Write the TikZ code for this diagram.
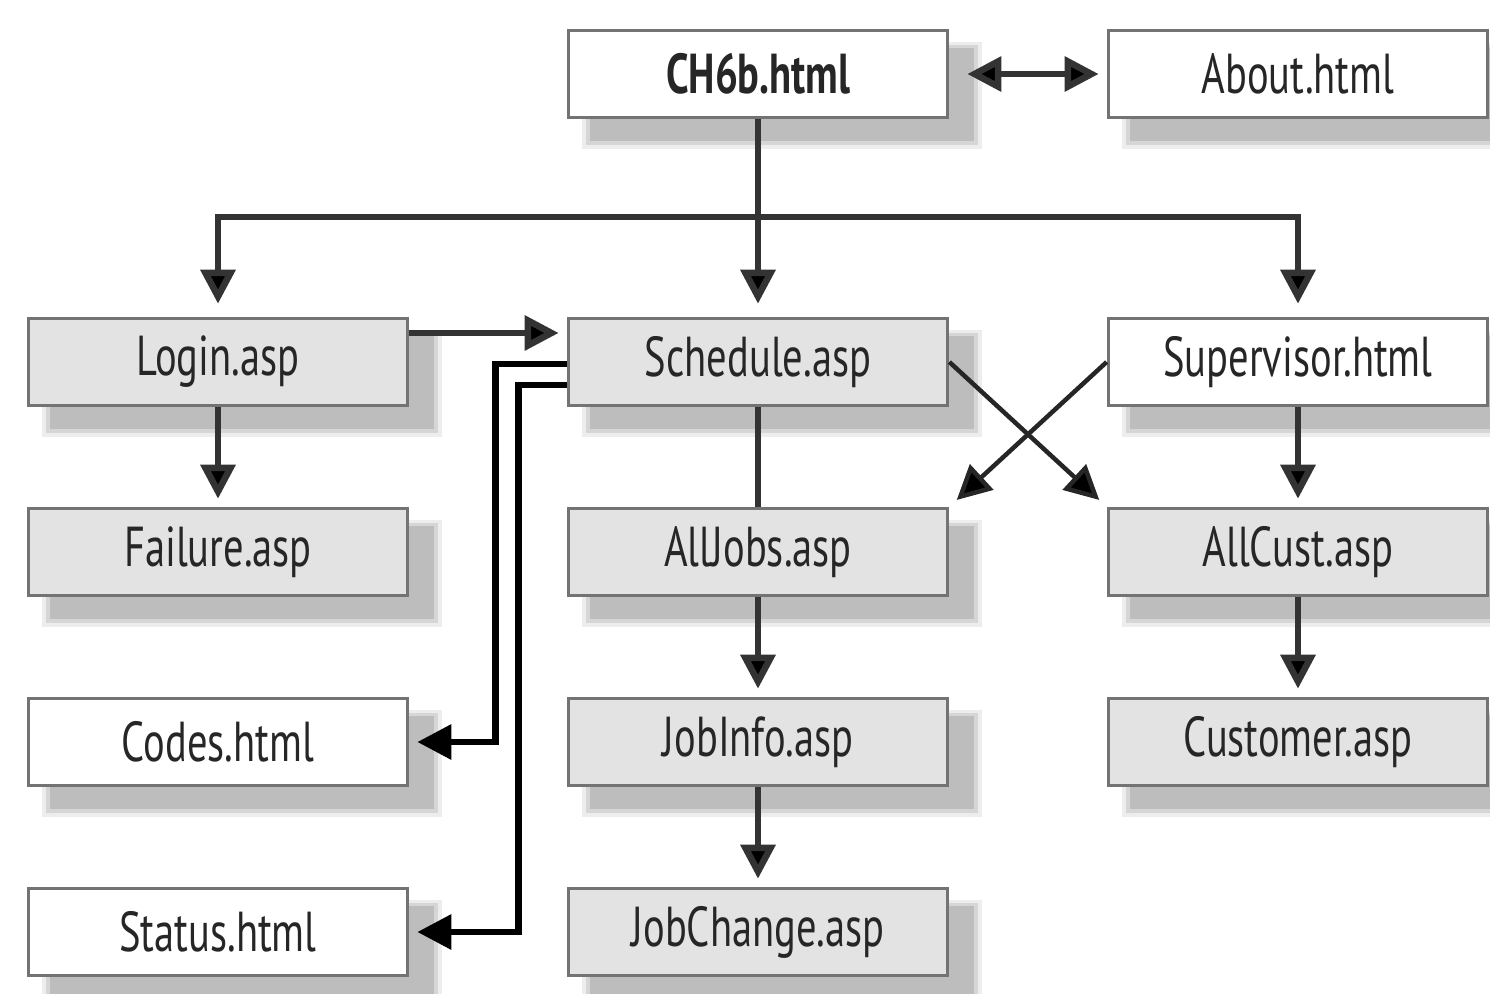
\documentclass[tikz,border=0pt]{standalone}
\usepackage{fontspec}
\setmainfont{PT Sans}[FakeStretch=0.72]
\usetikzlibrary{arrows.meta,backgrounds,calc}

\begin{document}
\begin{tikzpicture}[x=0.01cm,y=-0.01cm,
  pagebox/.style={draw=black!55,line width=0.035cm,minimum width=3.79cm,
    minimum height=0.87cm,inner sep=0pt,font=\fontsize{16}{19}\selectfont,text=black!85},
  wbox/.style={pagebox,fill=white},
  gbox/.style={pagebox,fill=black!11},
  conn/.style={draw=black!80,line width=0.065cm},
  slim/.style={draw=black!85,line width=0.045cm},
  arr/.style={-{Triangle[length=0.34cm,width=0.34cm,fill=black]}},
  darr/.style={{Triangle[length=0.34cm,width=0.34cm,fill=black]}-{Triangle[length=0.34cm,width=0.34cm,fill=black]}}]

\useasboundingbox (0,0) rectangle (1490,993);

% pages
\node[wbox,font=\fontsize{16}{19}\selectfont\bfseries] (ch6b) at (758,74) {CH6b.html};
\node[wbox] (about) at (1298,74) {About.html};
\node[gbox] (login) at (218,362) {Login.asp};
\node[gbox] (sched) at (758,362) {Schedule.asp};
\node[wbox] (super) at (1298,362) {Supervisor.html};
\node[gbox] (fail) at (218,552) {Failure.asp};
\node[gbox] (alljobs) at (758,552) {AllJobs.asp};
\node[gbox] (allcust) at (1298,552) {AllCust.asp};
\node[wbox] (codes) at (218,742) {Codes.html};
\node[gbox] (jobinfo) at (758,742) {JobInfo.asp};
\node[gbox] (customer) at (1298,742) {Customer.asp};
\node[wbox] (status) at (218,932) {Status.html};
\node[gbox] (jobchange) at (758,932) {JobChange.asp};

% soft drop shadows behind every page
\begin{scope}[on background layer]
  \foreach \n in {ch6b,about,login,sched,super,fail,alljobs,allcust,codes,jobinfo,customer,status,jobchange}{
    \fill[black!7]  ($(\n.north west)+(15,13)$) rectangle ($(\n.south east)+(33,30)$);
    \fill[black!16] ($(\n.north west)+(19,16)$) rectangle ($(\n.south east)+(29,26)$);
    \fill[black!26] ($(\n.north west)+(23,19)$) rectangle ($(\n.south east)+(25,22)$);
  }
\end{scope}

% links
\coordinate (bus) at (758,217);
\draw[conn,darr,shorten <=0.18cm,shorten >=0.08cm] (ch6b) -- (about);
\draw[conn,arr,shorten >=0.13cm] (ch6b) -- (sched);
\draw[conn,arr,shorten >=0.13cm] (bus) -| (login.north);
\draw[conn,arr,shorten >=0.13cm] (bus) -| (super.north);
\draw[conn,arr,shorten >=0.08cm] ([yshift=0.29cm]login.east) -- ([yshift=0.29cm]sched.west);
\draw[conn,arr,shorten >=0.08cm] (login) -- (fail);
\draw[conn] (sched) -- (alljobs);
\draw[conn,arr,shorten >=0.08cm] (alljobs) -- (jobinfo);
\draw[conn,arr,shorten >=0.08cm] (jobinfo) -- (jobchange);
\draw[conn,arr,shorten >=0.08cm] (super) -- (allcust);
\draw[conn,arr,shorten >=0.08cm] (allcust) -- (customer);
\draw[slim,arr,shorten >=0.1cm] (sched.east) -- (allcust.north west);
\draw[slim,arr,shorten >=0.1cm] (super.west) -- (alljobs.north east);
\draw[conn,draw=black,arr,shorten >=0.08cm] ([yshift=-0.02cm]sched.west) -- ++(-71,0) |- (codes.east);
\draw[conn,draw=black,arr,shorten >=0.08cm] ([yshift=-0.23cm]sched.west) -- ++(-48,0) |- (status.east);
\end{tikzpicture}
\end{document}
